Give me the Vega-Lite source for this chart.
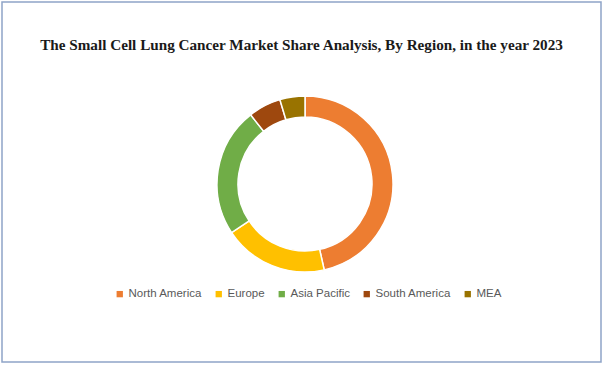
{
  "$schema": "https://vega.github.io/schema/vega-lite/v6.json",
  "autosize": {"type": "none"},
  "width": 599,
  "height": 360,
  "padding": {"left": 2, "top": 2, "right": 5, "bottom": 4},
  "background": "white",
  "view": {"stroke": "#8EA4C8", "strokeWidth": 1.5},
  "title": {
    "text": "The Small Cell Lung Cancer Market Share Analysis, By Region, in the year 2023",
    "font": "Liberation Serif",
    "fontSize": 15.2,
    "fontWeight": "bold",
    "color": "#1a1a1a",
    "anchor": "middle",
    "orient": "top",
    "offset": -51
  },
  "data": {
    "values": [
      {"idx": 1, "region": "North America", "share": 46.5},
      {"idx": 2, "region": "Europe", "share": 19.2},
      {"idx": 3, "region": "Asia Pacific", "share": 23.7},
      {"idx": 4, "region": "South America", "share": 6.0},
      {"idx": 5, "region": "MEA", "share": 4.6}
    ]
  },
  "mark": {
    "type": "arc",
    "outerRadius": 88,
    "innerRadius": 67,
    "stroke": "white",
    "strokeWidth": 1.5,
    "xOffset": 3.5,
    "yOffset": 2
  },
  "encoding": {
    "theta": {"field": "share", "type": "quantitative", "stack": true},
    "order": {"field": "idx", "type": "quantitative", "sort": "ascending"},
    "color": {
      "field": "region",
      "type": "nominal",
      "sort": ["North America", "Europe", "Asia Pacific", "South America", "MEA"],
      "scale": {
        "domain": ["North America", "Europe", "Asia Pacific", "South America", "MEA"],
        "range": ["#ED7D31", "#FFC000", "#70AD47", "#9E480E", "#997300"]
      },
      "legend": {
        "orient": "none",
        "direction": "horizontal",
        "legendX": 112,
        "legendY": 286,
        "title": null,
        "symbolType": "square",
        "symbolSize": 40,
        "symbolStrokeWidth": 0,
        "labelFont": "Liberation Sans",
        "labelFontSize": 11.5,
        "labelColor": "#595959",
        "columnPadding": 11,
        "symbolOffset": 0,
        "labelOffset": 3
      }
    }
  }
}
